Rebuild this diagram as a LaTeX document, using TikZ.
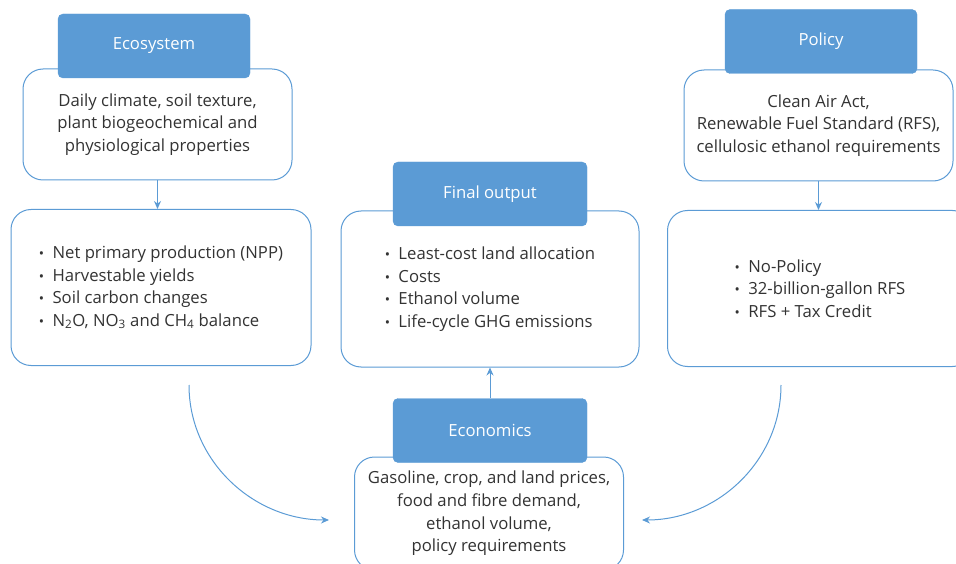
\documentclass[tikz,border=0pt]{standalone}
\usepackage{fontspec}
\setmainfont{Open Sans}
\usetikzlibrary{arrows.meta}
\definecolor{hblue}{HTML}{5B9BD5}
\definecolor{ink}{HTML}{333333}
\newcommand{\bul}{{\fontsize{14}{14}\selectfont\textbullet}\hspace{0.5em}}
\begin{document}
\begin{tikzpicture}[x=1pt,y=-1pt,
    font=\fontsize{16.7}{22.6}\selectfont,
    head/.style={draw=hblue,fill=hblue,text=white,rounded corners=5pt,
      minimum width=192pt,minimum height=64pt,inner sep=0pt},
    box/.style={draw=hblue,fill=white,line width=1pt,text=ink,rounded corners=20pt,
      minimum width=269pt,minimum height=111pt,align=center,inner sep=0pt},
    outbox/.style={box,minimum width=300pt,minimum height=156pt,align=left},
    conn/.style={hblue,line width=1pt,-{Stealth[length=8pt,width=7pt]}}]
  \useasboundingbox (0,0) rectangle (956,564);
  \clip (0,0) rectangle (956,564);
  % boxes
  \node[box] (ecobox) at (157.5,124.5) {Daily climate, soil texture,\\plant biogeochemical and\\physiological properties};
  \node[box] (polbox) at (818.5,125.5) {Clean Air Act,\\Renewable Fuel Standard (RFS),\\cellulosic ethanol requirements};
  \node[outbox] (ecoout) at (161,287.5) {\bul Net primary production (NPP)\\\bul Harvestable yields\\\bul Soil carbon changes\\\bul N\textsubscript{2}O, NO\textsubscript{3} and CH\textsubscript{4} balance};
  \node[outbox,minimum width=305pt] (polout) at (820,288.5) {\bul No-Policy\\\bul 32-billion-gallon RFS\\\bul RFS + Tax Credit};
  \node[outbox,minimum width=298pt] (finbox) at (490,289) {\bul Least-cost land allocation\\\bul Costs\\\bul Ethanol volume\\\bul Life-cycle GHG emissions};
  \node[box,minimum height=113pt] (econbox) at (489,513.5) {Gasoline, crop, and land prices,\\food and fibre demand,\\ethanol volume,\\policy requirements};
  % headers
  \node[head] (ecohead) at (154,46) {Ecosystem};
  \node[head] (polhead) at (821,41.5) {Policy};
  \node[head,minimum width=194pt] (finhead) at (490,194) {Final output};
  \node[head,minimum width=194pt] (econhead) at (490,430.5) {Economics};
  % connectors
  \coordinate (lstart) at (189,385);
  \coordinate (lend) at (329,520);
  \coordinate (rstart) at (781,385);
  \coordinate (rend) at (642,520);
  \draw[conn] (ecobox.south) -- (ecobox.south |- ecoout.north);
  \draw[conn] (polbox.south) -- (polbox.south |- polout.north);
  \draw[conn] (econhead.north) -- (econhead.north |- finbox.south);
  \draw[conn] (lstart) to[out=-90,in=180] (lend);
  \draw[conn] (rstart) to[out=-90,in=0] (rend);
\end{tikzpicture}
\end{document}
